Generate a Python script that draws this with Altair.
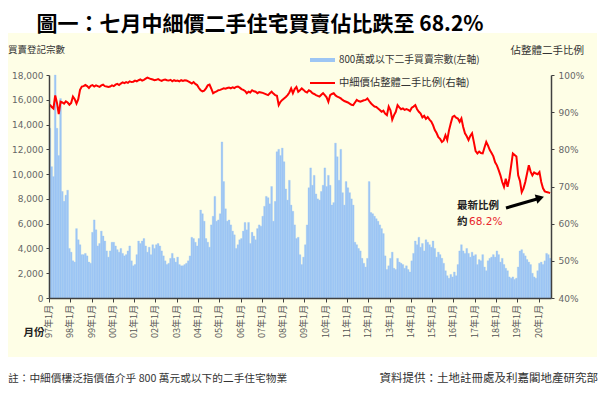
import altair as alt
import pandas as pd

# ---- monthly secondary transactions (<= HK$8M), Jan 1997 .. Jul 2020 ----
c1997 = [13700, 10600, 9800, 18000, 13700, 11500, 16100, 8600, 7800, 8300, 8700, 4000]
c1998 = [3700, 3000, 2900, 5600, 4700, 4300, 3500, 3500, 3600, 3400, 2900, 2800]
c1999 = [5300, 6300, 5500, 4200, 4400, 5400, 5000, 4600, 3800, 3300, 3800, 4500]
c2000 = [4500, 4200, 3900, 3700, 4000, 3600, 3400, 3500, 3800, 4200, 3000, 2600]
c2001 = [2700, 3500, 4600, 4400, 4600, 4800, 4200, 3700, 4100, 3500, 4300, 4000]
c2002 = [4300, 4400, 4200, 3800, 3400, 3000, 2700, 2800, 3200, 3600, 3200, 2900]
c2003 = [3300, 2700, 2600, 2600, 2700, 2800, 3000, 3400, 4900, 4800, 4500, 4200]
c2004 = [4800, 7100, 6800, 6200, 4800, 4500, 4100, 5900, 6600, 8200, 6200, 6300]
c2005 = [6800, 12600, 9400, 7200, 6200, 6300, 5900, 5400, 5100, 4000, 4300, 4700]
c2006 = [4800, 5400, 6100, 5500, 6100, 4400, 5300, 5000, 4700, 5600, 5900, 5800]
c2007 = [6600, 7400, 8200, 8100, 7600, 9000, 6200, 7800, 11800, 12000, 11500, 12100]
c2008 = [11000, 8800, 7900, 9500, 7500, 7000, 5900, 4800, 4900, 3500, 2700, 3300]
c2009 = [4300, 5900, 8900, 10500, 9100, 9900, 8400, 8000, 7900, 8600, 9100, 10500]
c2010 = [9000, 9900, 9100, 7500, 7700, 12500, 11400, 9500, 12000, 8500, 7500, 9400]
c2011 = [8900, 8500, 8000, 7500, 4500, 4300, 4000, 3800, 3200, 2800, 2500, 3200]
c2012 = [9400, 6900, 6800, 6600, 6400, 6200, 5900, 5600, 5200, 3400, 2300, 2600]
c2013 = [3200, 3700, 2400, 2300, 3200, 2900, 2800, 2700, 2400, 2600, 2300, 2100]
c2014 = [3000, 3600, 4600, 4300, 4900, 4100, 4400, 3800, 4700, 4500, 4300, 4100]
c2015 = [4600, 4000, 3300, 3700, 3500, 3200, 2800, 2200, 1800, 1600, 1900, 1700]
c2016 = [2100, 1800, 2700, 3800, 4300, 3800, 3600, 4000, 3600, 3300, 3700, 3400]
c2017 = [3500, 2700, 3100, 3000, 3500, 2500, 2200, 3000, 3200, 3300, 3500, 3300]
c2018 = [3800, 3500, 2900, 3200, 2700, 2400, 2200, 1700, 1600, 1700, 1500, 1600]
c2019 = [2500, 3800, 3900, 3600, 3400, 3100, 2900, 2700, 2000, 1700, 1600, 2200]
c2020 = [2800, 2900, 2700, 3000, 3600, 3500, 3200]

# ---- share of all secondary transactions (%) ----
r1997 = [92.0, 91.4, 91.0, 94.5, 92.5, 89.5, 92.8, 92.6, 92.3, 92.9, 92.6, 92.0]
r1998 = [92.5, 94.2, 93.5, 92.3, 93.5, 96.0, 96.9, 97.0, 97.3, 97.0, 96.5, 97.1]
r1999 = [97.3, 96.9, 97.2, 97.0, 96.8, 97.2, 97.4, 97.0, 96.9, 96.8, 96.9, 97.2]
r2000 = [97.0, 97.4, 97.6, 97.3, 97.7, 98.0, 97.8, 98.1, 97.9, 98.3, 98.1, 98.2]
r2001 = [98.5, 98.3, 98.6, 98.8, 98.5, 98.7, 99.0, 99.3, 99.1, 98.9, 98.8, 98.6]
r2002 = [98.7, 98.9, 98.6, 98.4, 98.7, 98.8, 98.6, 98.5, 98.7, 98.3, 98.6, 98.4]
r2003 = [98.5, 98.3, 98.6, 98.4, 98.6, 98.5, 98.3, 98.0, 97.7, 98.1, 97.6, 97.3]
r2004 = [96.5, 95.9, 95.6, 95.8, 96.4, 97.2, 97.4, 96.3, 95.1, 95.4, 95.6, 95.9]
r2005 = [96.0, 96.2, 96.4, 96.3, 96.5, 96.6, 96.4, 96.7, 96.5, 96.8, 96.9, 96.6]
r2006 = [96.2, 96.0, 95.7, 95.1, 95.5, 95.3, 95.9, 95.6, 95.5, 95.1, 95.4, 95.3]
r2007 = [95.2, 95.0, 94.8, 94.6, 95.1, 95.5, 95.0, 94.6, 94.4, 91.9, 92.8, 93.3]
r2008 = [93.7, 94.1, 94.6, 95.3, 96.4, 95.1, 96.2, 96.8, 95.5, 95.9, 96.4, 96.0]
r2009 = [95.5, 95.3, 95.9, 95.6, 95.1, 94.9, 94.6, 94.4, 94.2, 94.7, 95.1, 94.6]
r2010 = [94.0, 92.8, 94.6, 94.9, 95.1, 94.5, 94.2, 94.0, 93.7, 93.3, 93.0, 92.8]
r2011 = [92.6, 92.3, 92.0, 91.9, 92.6, 93.3, 93.0, 92.8, 93.0, 93.2, 93.3, 93.7]
r2012 = [93.0, 92.4, 91.9, 91.5, 91.4, 91.0, 90.6, 90.1, 90.4, 89.6, 89.2, 91.5]
r2013 = [90.5, 88.0, 89.2, 90.1, 91.9, 91.3, 90.8, 91.0, 90.6, 90.8, 90.6, 90.3]
r2014 = [91.2, 91.5, 91.9, 90.8, 90.1, 89.6, 88.6, 89.0, 88.2, 88.7, 88.0, 87.5]
r2015 = [86.5, 85.2, 84.4, 83.3, 82.8, 82.0, 82.4, 83.8, 82.5, 85.1, 87.0, 88.7]
r2016 = [89.0, 88.5, 88.3, 87.4, 88.3, 86.0, 84.3, 83.5, 82.5, 83.6, 84.3, 82.0]
r2017 = [79.5, 78.9, 79.4, 79.0, 78.9, 80.5, 82.0, 81.0, 79.8, 79.0, 78.1, 76.5]
r2018 = [75.7, 74.4, 73.0, 71.2, 69.9, 72.1, 69.9, 72.1, 75.5, 78.9, 78.5, 78.1]
r2019 = [73.0, 71.5, 68.5, 69.5, 71.2, 73.5, 75.7, 74.0, 73.0, 73.8, 73.5, 73.3]
r2020 = [73.9, 71.2, 69.5, 68.7, 68.5, 68.4, 68.2]

tick_labels = ["97年1月", "98年1月", "99年1月", "00年1月", "01年1月", "02年1月",
               "03年1月", "04年1月", "05年1月", "06年1月", "07年1月", "08年1月",
               "09年1月", "10年1月", "11年1月", "12年1月", "13年1月", "14年1月",
               "15年1月", "16年1月", "17年1月", "18年1月", "19年1月", "20年1月"]
left_ticks = [0, 2000, 4000, 6000, 8000, 10000, 12000, 14000, 16000, 18000]
right_ticks = [40, 50, 60, 70, 80, 90, 100]

counts = (c1997 + c1998 + c1999 + c2000 + c2001 + c2002 + c2003 + c2004 + c2005 + c2006 +
          c2007 + c2008 + c2009 + c2010 + c2011 + c2012 + c2013 + c2014 + c2015 + c2016 +
          c2017 + c2018 + c2019 + c2020)
ratios = (r1997 + r1998 + r1999 + r2000 + r2001 + r2002 + r2003 + r2004 + r2005 + r2006 +
          r2007 + r2008 + r2009 + r2010 + r2011 + r2012 + r2013 + r2014 + r2015 + r2016 +
          r2017 + r2018 + r2019 + r2020)
n = len(counts)
df = pd.DataFrame({"m": list(range(n)), "count": counts, "ratio": ratios})
df["m1"] = df["m"] + 1
df["mid"] = df["m"] + 0.5

x_ticks = [12 * i for i in range(len(tick_labels))]
tick_df = pd.DataFrame({"m": x_ticks, "label": tick_labels})

CJK = "Noto Sans CJK TC"
NUM = "DejaVu Sans"
AX = "#404040"
W, H = 502, 223

xscale = alt.Scale(domain=[0, n], nice=False, zero=False)

x_axis = alt.Axis(values=x_ticks, labels=False, tickSize=4, tickColor=AX,
                  domainColor=AX, domainWidth=1.5, title=None, grid=False, zindex=2)


def one():
    return pd.DataFrame({"k": [0]})


def txt(text, x, y, size=10, color="#222222", align="left", weight="normal", font=CJK):
    return alt.Chart(pd.DataFrame({"t": [text]})).mark_text(
        align=align, baseline="middle", fontSize=size, color=color,
        fontWeight=weight, font=font
    ).encode(x=alt.value(x), y=alt.value(y), text="t:N")


bg = alt.Chart(one()).mark_rect(color="#FEFEE6").encode(
    x=alt.value(-41), x2=alt.value(548), y=alt.value(-42), y2=alt.value(282)
)

bars = alt.Chart(df).mark_bar(color="#9DC6F4", stroke="#9DC6F4", strokeWidth=0.3).encode(
    x=alt.X("m:Q", scale=xscale, axis=x_axis),
    x2="m1:Q",
    y=alt.Y("count:Q", scale=alt.Scale(domain=[0, 18000], nice=False),
            axis=alt.Axis(orient="left", values=left_ticks, format=",d",
                          labelFont=NUM, labelFontSize=9, labelColor="#666666",
                          tickSize=3, tickColor=AX, domainColor=AX, domainWidth=1.5,
                          labelPadding=3, title=None, grid=False, zindex=2)),
    y2=alt.datum(0),
)

line = alt.Chart(df).mark_line(color="#FF0000", strokeWidth=2).encode(
    x=alt.X("mid:Q", scale=xscale, axis=x_axis),
    y=alt.Y("ratio:Q", scale=alt.Scale(domain=[40, 100], nice=False, zero=False),
            axis=alt.Axis(orient="right", values=right_ticks, labelExpr="datum.value + '%'",
                          labelFont=NUM, labelFontSize=9, labelColor="#666666",
                          tickSize=3, tickColor=AX, domainColor=AX, domainWidth=1.5,
                          labelPadding=4, title=None, grid=False, zindex=2)),
)

xlabels = alt.Chart(tick_df).mark_text(
    angle=270, align="right", baseline="middle", font=CJK, fontSize=9, color="#555555"
).encode(x=alt.X("m:Q", scale=xscale, axis=x_axis), y=alt.value(H + 7), text="label:N")

leg_blue = alt.Chart(one()).mark_rule(color="#9DC6F4", strokeWidth=4).encode(
    x=alt.value(261), x2=alt.value(286), y=alt.value(-15))
leg_red = alt.Chart(one()).mark_rule(color="#FF0000", strokeWidth=2).encode(
    x=alt.value(261), x2=alt.value(286), y=alt.value(8))

arrow = alt.Chart(one()).mark_rule(color="#000000", strokeWidth=3).encode(
    x=alt.value(457), x2=alt.value(488), y=alt.value(133), y2=alt.value(124))
arrow_head = alt.Chart(one()).mark_point(shape="triangle-up", filled=True, color="#000000",
                                         size=90, angle=74, opacity=1).encode(
    x=alt.value(491), y=alt.value(123))

texts = [
    txt("圖一：七月中細價二手住宅買賣佔比跌至 68.2%", 211, -50, size=21, color="#000000",
        weight="bold", align="center"),
    txt("買賣登記宗數", -41, -25, size=9.5, color="#333333"),
    txt("佔整體二手比例", 535, -24, size=10.5, color="#333333", align="right"),
    txt("800萬或以下二手買賣宗數(左軸)", 290, -15, size=9.8, color="#333333"),
    txt("中細價佔整體二手比例(右軸)", 290, 8, size=10.3, color="#333333"),
    txt("最新比例", 429, 131, size=10.5, color="#222222", align="center", weight="bold"),
    txt("約", 408, 147, size=10.5, color="#222222", weight="bold"),
    txt("68.2%", 420, 147, size=10.5, color="#E8262B", font=NUM),
    txt("月份", -15, 258, size=10.5, color="#222222", align="center", weight="bold"),
    txt("註：中細價樓泛指價值介乎 800 萬元或以下的二手住宅物業", -41, 304, size=10.7,
        color="#333333"),
    txt("資料提供：土地註冊處及利嘉閣地產研究部", 549, 304, size=11.5, color="#333333",
        align="right"),
]

chart = alt.layer(bg, bars, line, xlabels, leg_blue, leg_red, arrow, arrow_head,
                  *texts).resolve_scale(
    y="independent"
).properties(
    width=W, height=H,
    autosize=alt.AutoSizeParams(type="none"),
    padding={"left": 41, "top": 67, "right": 49, "bottom": 90},
    background="#FFFFFF",
).configure_view(strokeWidth=0)

chart.save("out.html", embed_options={"renderer": "svg", "actions": False})
